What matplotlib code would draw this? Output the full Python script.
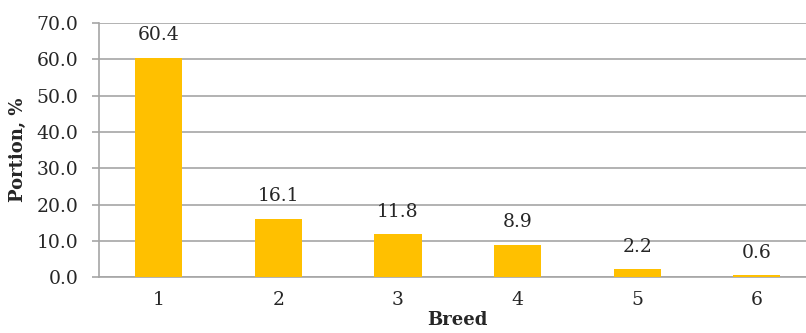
import matplotlib
matplotlib.use("Agg")
import matplotlib.pyplot as plt

breeds = [1, 2, 3, 4, 5, 6]
portion = [60.4, 16.1, 11.8, 8.9, 2.2, 0.6]
yticks = [0, 10, 20, 30, 40, 50, 60, 70]

plt.rcParams["font.family"] = ["DejaVu Serif"]
text_color = "#262626"
line_color = "#A6A6A6"

fig = plt.figure(figsize=(8.06, 3.33), dpi=100)
ax = fig.add_axes([99 / 806, (333 - 277.3) / 333, 717.6 / 806, (277.3 - 23) / 333])

ax.bar(breeds, portion, width=0.393, color="#FFC000", zorder=3)
for x, v in zip(breeds, portion):
    ax.annotate(f"{v:.1f}", (x, v), xytext=(0, 12.6), textcoords="offset points",
                ha="center", va="baseline", fontsize=13.5, color=text_color)

ax.set_xlim(0.5, 6.5)
ax.set_ylim(0, 70)
ax.set_yticks(yticks)
ax.set_yticklabels([f"{t:.1f}" for t in yticks])
ax.set_xticks(breeds)
ax.set_xticklabels([str(b) for b in breeds])

ax.grid(axis="y", color=line_color, linewidth=1.2, zorder=0)
for s in ["top", "right"]:
    ax.spines[s].set_visible(False)
for s in ["left", "bottom"]:
    ax.spines[s].set_color(line_color)
    ax.spines[s].set_linewidth(1.2)
ax.tick_params(axis="y", length=5, width=1.2, color=line_color, labelsize=13.5,
               labelcolor=text_color, pad=10)
ax.tick_params(axis="x", length=0, labelsize=13.5, labelcolor=text_color, pad=10)

ax.set_xlabel("Breed", fontsize=13, fontweight="bold", color=text_color, labelpad=1)
ax.set_ylabel("Portion, %", fontsize=13, fontweight="bold", color=text_color, labelpad=7)

fig.savefig("out.png", dpi=100)
